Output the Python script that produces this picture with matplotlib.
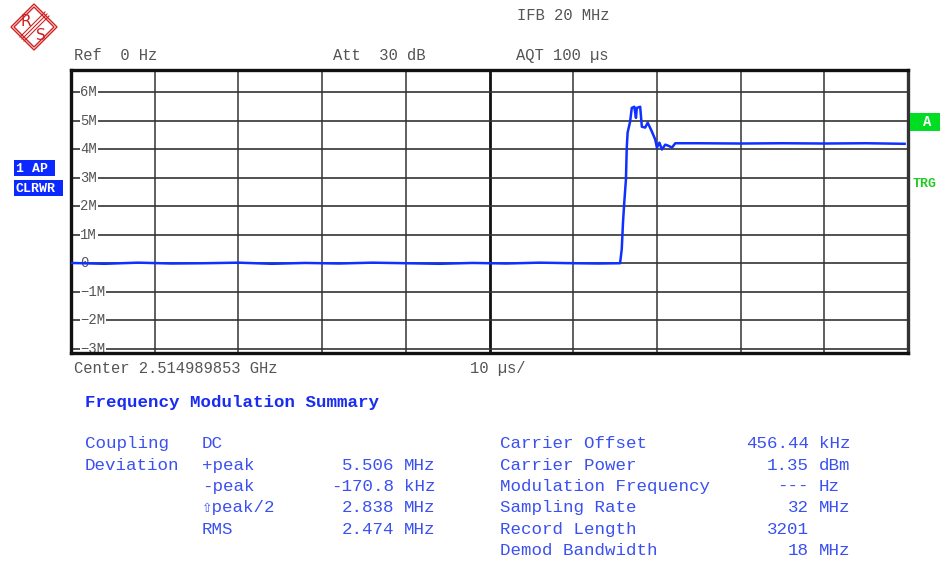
import matplotlib
matplotlib.use("Agg")
import matplotlib.pyplot as plt
from matplotlib.patches import Polygon, Rectangle

# trace data: time in us, FM deviation in MHz
t_us = [0, 4, 8, 12, 16, 20, 24, 28, 32, 36, 40, 44, 48, 52, 56, 60, 63, 65.6,
        65.8, 65.95, 66.1, 66.3, 66.4, 66.5, 66.8, 67.0, 67.3, 67.5, 67.6, 68.0,
        68.2, 68.6, 68.9, 69.4, 69.8, 70.0, 70.3, 70.6, 71.0, 71.3, 71.8, 72.2,
        75, 80, 85, 90, 95, 99.6]
dev_mhz = [0.01, -0.02, 0.02, -0.01, 0.0, 0.02, -0.02, 0.01, -0.01, 0.02, 0.0, -0.02, 0.01, -0.01, 0.02, 0.0, -0.01, 0.0,
           0.49, 1.43, 2.13, 2.94, 4.06, 4.58, 4.97, 5.45, 5.49, 5.10, 5.45, 5.49,
           4.79, 4.76, 4.93, 4.62, 4.34, 4.06, 4.23, 3.99, 4.16, 4.13, 4.06, 4.21,
           4.21, 4.20, 4.21, 4.20, 4.21, 4.19]

ytick_vals = [6, 5, 4, 3, 2, 1, 0, -1, -2, -3]
ytick_labels = ["6M", "5M", "4M", "3M", "2M", "1M", "0", "\u22121M", "\u22122M", "\u22123M"]
xgrid_vals = [10, 20, 30, 40, 60, 70, 80, 90]

left_labels = ["Coupling", "Deviation", "", "", ""]
left_keys = ["DC", "+peak", "-peak", "\u21e7peak/2", "RMS"]
left_values = ["", "5.506", "-170.8", "2.838", "2.474"]
left_units = ["", "MHz", "kHz", "MHz", "MHz"]

right_keys = ["Carrier Offset", "Carrier Power", "Modulation Frequency",
              "Sampling Rate", "Record Length", "Demod Bandwidth"]
right_values = ["456.44", "1.35", "---", "32", "3201", "18"]
right_units = ["kHz", "dBm", "Hz", "MHz", "", "MHz"]

mono = ["Liberation Mono", "DejaVu Sans Mono", "DejaVu Sans"]
gray = "#555555"
blue = "#3a50f0"
trace_blue = "#1030ff"

fig = plt.figure(figsize=(9.4, 5.63), dpi=100)

# main display
ax = fig.add_axes([71 / 940, 1 - 353 / 563, 837 / 940, 283 / 563])
ax.set_xlim(0, 100)
ax.set_ylim(-3.15, 6.78)
for v in xgrid_vals:
    ax.axvline(v, color="#444444", lw=1.2, zorder=1)
ax.axvline(50, color="#111111", lw=2.0, zorder=1)
for v, lab in zip(ytick_vals, ytick_labels):
    ax.axhline(v, color="#333333", lw=1.2, zorder=1)
    ax.text(1.1, v, lab, fontsize=10, family=mono, color=gray, va="center", ha="left",
            zorder=2, bbox=dict(facecolor="white", edgecolor="none", pad=0.5))
ax.plot(t_us, dev_mhz, color=trace_blue, lw=1.8, zorder=3)
ax.set_xticks([])
ax.set_yticks([])
for side in ["left", "top", "bottom"]:
    ax.spines[side].set_linewidth(2.4)
    ax.spines[side].set_color("#111111")
ax.spines["right"].set_linewidth(2.4)
ax.spines["right"].set_color("#333333")

# overlay in pixel coordinates for the annotations
ov = fig.add_axes([0, 0, 1, 1])
ov.set_xlim(0, 940)
ov.set_ylim(563, 0)
ov.axis("off")
ov.patch.set_visible(False)

# logo
cx, cy = 34, 27
for h in [23, 20]:
    ov.add_patch(Polygon([(cx, cy - h), (cx + h, cy), (cx, cy + h), (cx - h, cy)],
                         closed=True, fill=False, edgecolor="#cc2222", lw=1.0))
for off in [-2, 0, 2]:
    ov.plot([22 + off, 47 + off], [39 + off, 14 + off], color="#cc2222", lw=0.8)
ov.text(26, 22, "R", color="#cc2222", fontsize=11, family="DejaVu Sans", ha="center", va="center")
ov.text(41, 35, "S", color="#cc2222", fontsize=11, family="DejaVu Sans", ha="center", va="center")

# header (baseline placed ~4 px below the text centre)
hdr = dict(fontsize=11.2, family=mono, color=gray, va="baseline", ha="left")
ov.text(517, 20, "IFB 20 MHz", **hdr)
ov.text(74, 60, "Ref  0 Hz", **hdr)
ov.text(333, 60, "Att  30 dB", **hdr)
ov.text(516, 60, "AQT 100 \u00b5s", **hdr)
ov.text(74, 373, "Center 2.514989853 GHz", **hdr)
ov.text(470, 373, "10 \u00b5s/", **hdr)

# side boxes
ov.add_patch(Rectangle((14, 160), 41, 16, facecolor="#0a28ff", edgecolor="none"))
ov.add_patch(Rectangle((14, 180), 49, 16, facecolor="#0a28ff", edgecolor="none"))
ov.text(16, 172, "1 AP", color="white", fontsize=9.5, family=mono, weight="bold", va="baseline")
ov.text(15, 192, "CLRWR", color="white", fontsize=9.5, family=mono, weight="bold", va="baseline")
ov.add_patch(Rectangle((910, 113), 30, 18, facecolor="#00dd22", edgecolor="none"))
ov.text(927, 126, "A", color="white", fontsize=10, family=mono, weight="bold", va="baseline", ha="center")
ov.text(913, 187, "TRG", color="#22cc22", fontsize=9.5, family=mono, weight="bold", va="baseline")

# summary
ov.text(85, 407, "Frequency Modulation Summary", fontsize=12.6, family=mono, weight="bold",
        color="#1a2cf0", va="baseline")
row_y = [448, 470, 491, 512, 534, 555]
tb = dict(fontsize=12.6, family=mono, color=blue, va="baseline")
for i in range(len(left_keys)):
    y = row_y[i]
    ov.text(85, y, left_labels[i], ha="left", **tb)
    ov.text(202, y, left_keys[i], ha="left", **tb)
    ov.text(394, y, left_values[i], ha="right", **tb)
    ov.text(404, y, left_units[i], ha="left", **tb)
for i in range(len(right_keys)):
    y = row_y[i]
    ov.text(500, y, right_keys[i], ha="left", **tb)
    ov.text(809, y, right_values[i], ha="right", **tb)
    ov.text(819, y, right_units[i], ha="left", **tb)

fig.savefig("out.png", dpi=100)
